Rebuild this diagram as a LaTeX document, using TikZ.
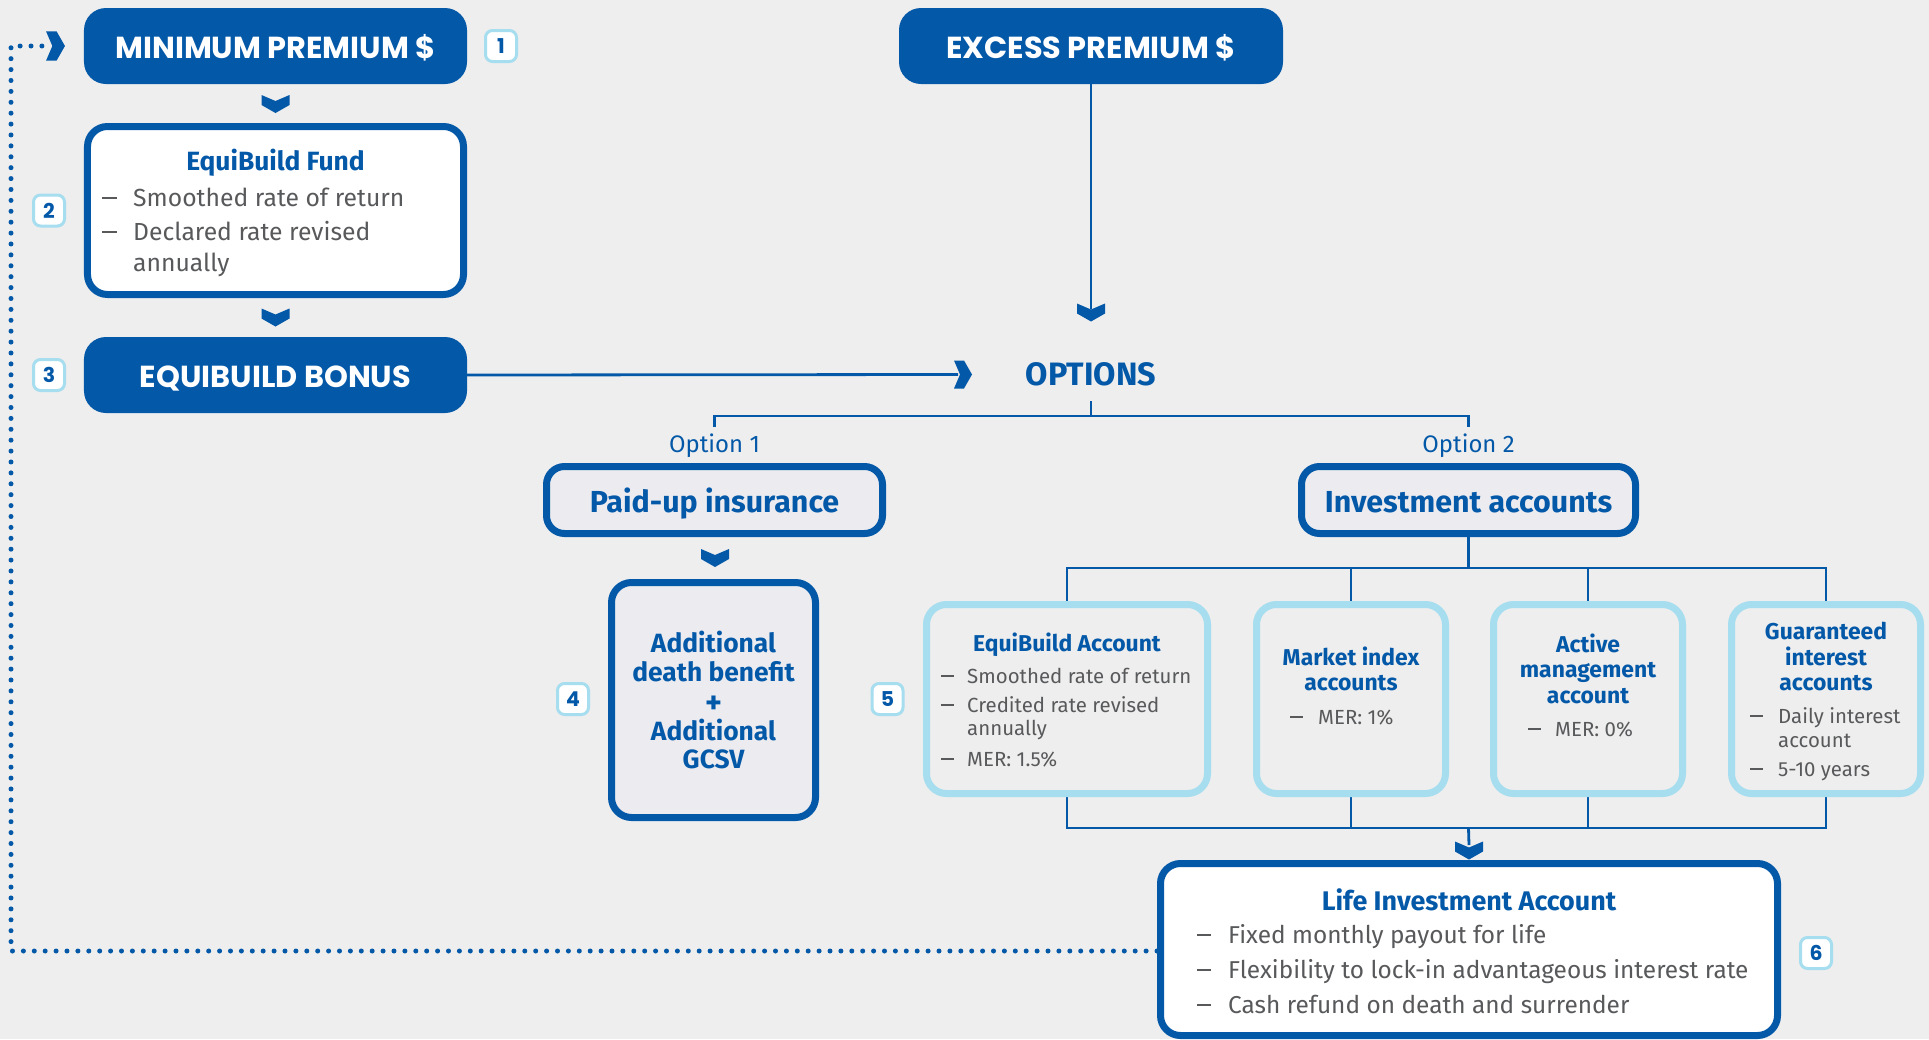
\documentclass[tikz,border=0pt]{standalone}
\usepackage{fontspec}
\setmainfont{Fira Sans}
\newfontfamily\hfont{Poppins}
\usetikzlibrary{calc}
\definecolor{navy}{HTML}{0358A8}
\definecolor{sky}{HTML}{A6DDEF}
\definecolor{bgpaper}{HTML}{EEEEEE}
\definecolor{panel}{HTML}{ECECF0}
\definecolor{ink}{HTML}{58595B}
\pgfdeclarelayer{paperlayer}
\pgfdeclarelayer{wires}
\pgfsetlayers{paperlayer,wires,main}
\tikzset{
  solidbox/.style={fill=navy, rounded corners=22bp, inner sep=0pt, minimum width=383bp, minimum height=76bp},
  framebox/.style={draw=navy, line width=7bp, rounded corners=20bp, inner sep=0pt, fill=white},
  panelbox/.style={framebox, fill=panel},
  softbox/.style={draw=sky, line width=7bp, rounded corners=20bp, inner sep=0pt, fill=bgpaper, minimum height=189bp},
  badge/.style={draw=sky, line width=3bp, fill=white, rounded corners=7bp, minimum size=31bp, inner sep=0pt, text=navy, font=\hfont\bfseries\fontsize{20.5}{20.5}\selectfont},
  conn/.style={draw=navy, line width=2.8bp},
  dotline/.style={draw=navy, line width=5bp, line cap=round, dash pattern=on 0bp off 10.9bp},
  heading/.style={text=white, font=\hfont\bfseries\fontsize{30.5}{30.5}\selectfont, inner sep=0pt, anchor=base},
  bigtitle/.style={text=navy, font=\bfseries\fontsize{30.5}{30.5}\selectfont, inner sep=0pt, anchor=base},
  addtitle/.style={text=navy, font=\bfseries\fontsize{26.5}{26.5}\selectfont, inner sep=0pt, anchor=base},
  boxtitle/.style={text=navy, font=\bfseries\fontsize{26.5}{26.5}\selectfont, inner sep=0pt, anchor=base},
  acctitle/.style={text=navy, font=\bfseries\fontsize{23}{23}\selectfont, inner sep=0pt, anchor=base},
  optlabel/.style={text=navy, font=\fontsize{24}{24}\selectfont, inner sep=0pt, anchor=base},
  fundtxt/.style={text=ink, font=\fontsize{24.8}{24.8}\selectfont, inner sep=0pt, anchor=base west},
  acctxt/.style={text=ink, font=\fontsize{20.5}{20.5}\selectfont, inner sep=0pt, anchor=base west},
  lifetxt/.style={text=ink, font=\fontsize{24.5}{24.5}\selectfont, inner sep=0pt, anchor=base west},
  fundmark/.style={fill=ink, inner sep=0pt, anchor=south west, minimum width=15bp, minimum height=2bp, yshift=7bp},
  accmark/.style={fill=ink, inner sep=0pt, anchor=south west, minimum width=12.5bp, minimum height=1.8bp, yshift=6bp},
  lifemark/.style={fill=ink, inner sep=0pt, anchor=south west, minimum width=14bp, minimum height=2bp, yshift=6.5bp},
  chevdown/.pic={\fill[navy] (-14,-9) -- (0,-3) -- (14,-9) -- (14,1) -- (0,9) -- (-14,1) -- cycle;},
  chevright/.pic={\fill[navy] (-9,-14) -- (-3,0) -- (-9,14) -- (1,14) -- (9,0) -- (1,-14) -- cycle;}
}
\begin{document}
\begin{tikzpicture}[x=1bp,y=-1bp]
\begin{pgfonlayer}{paperlayer}
  \fill[bgpaper] (0,0) rectangle (1929,1039);
\end{pgfonlayer}
\useasboundingbox (0,0) rectangle (1929,1039);

% ---- left column: premium, fund, bonus
\node[solidbox] (minprem) at (275.5,46) {};
\node[heading] (minpremT) at (275.5,58) {MINIMUM PREMIUM \$};
\node[badge] (b1) at (501,46) {1};
\pic at (275.5,104) {chevdown};

\node[framebox, minimum width=376bp, minimum height=168bp] (fund) at (275.5,210.5) {};
\node[boxtitle] (fundT) at (275.5,170) {EquiBuild Fund};
\node[fundmark] (fb1) at (102,206) {};
\node[fundtxt] (fl1) at (133,206) {Smoothed rate of return};
\node[fundmark] (fb2) at (102,240) {};
\node[fundtxt] (fl2) at (133,240) {Declared rate revised};
\node[fundtxt] (fl3) at (133,271) {annually};
\node[badge] (b2) at (49,210.5) {2};
\pic at (275.5,317.5) {chevdown};

\node[solidbox] (bonus) at (275.5,375) {};
\node[heading] (bonusT) at (275.5,387) {EQUIBUILD BONUS};
\node[badge] (b3) at (49,375) {3};

% ---- excess premium and options
\node[solidbox, minimum width=384bp] (excess) at (1091,46) {};
\node[heading] (excessT) at (1091,58) {EXCESS PREMIUM \$};
\pic at (1091,312.5) {chevdown};
\pic at (963,374.5) {chevright};
\node[bigtitle, font=\bfseries\fontsize{32.5}{32.5}\selectfont] (options) at (1091,385) {OPTIONS};

\node[optlabel] (opt1) at (714.5,452) {Option 1};
\node[optlabel] (opt2) at (1468.5,452) {Option 2};

% ---- option 1
\node[panelbox, rounded corners=18bp, minimum width=336bp, minimum height=67bp] (paid) at (714.5,500) {};
\node[bigtitle] (paidT) at (714.5,512) {Paid-up insurance};
\pic at (715,558) {chevdown};
\node[panelbox, minimum width=204bp, minimum height=235bp] (extra) at (713.5,700) {};
\node[addtitle] (ex1) at (713.5,652) {Additional};
\node[addtitle] (ex2) at (713.5,681) {death benefit};
\node[addtitle, font=\bfseries\fontsize{32}{32}\selectfont] (ex3) at (713.5,713) {+};
\node[addtitle] (ex4) at (713.5,740) {Additional};
\node[addtitle] (ex5) at (713.5,768) {GCSV};
\node[badge] (b4) at (573,699) {4};

% ---- option 2
\node[panelbox, rounded corners=18bp, minimum width=334bp, minimum height=67bp] (invest) at (1468.5,500) {};
\node[bigtitle] (investT) at (1468.5,512) {Investment accounts};
\node[badge] (b5) at (887.5,699) {5};

\node[softbox, minimum width=281bp] (acc1) at (1067,699) {};
\node[acctitle] (a1t) at (1067,651) {EquiBuild Account};
\node[accmark] (a1b1) at (941,683) {};
\node[acctxt] (a1l1) at (967,683) {Smoothed rate of return};
\node[accmark] (a1b2) at (941,712) {};
\node[acctxt] (a1l2) at (967,712) {Credited rate revised};
\node[acctxt] (a1l3) at (967,735) {annually};
\node[accmark] (a1b3) at (941,766) {};
\node[acctxt] (a1l4) at (967,766) {MER: 1.5\%};

\node[softbox, minimum width=189bp] (acc2) at (1351,699) {};
\node[acctitle] (a2t1) at (1351,665) {Market index};
\node[acctitle] (a2t2) at (1351,690) {accounts};
\node[accmark] (a2b1) at (1290,724) {};
\node[acctxt] (a2l1) at (1318,724) {MER: 1\%};

\node[softbox, minimum width=189bp] (acc3) at (1588,699) {};
\node[acctitle] (a3t1) at (1588,652) {Active};
\node[acctitle] (a3t2) at (1588,677) {management};
\node[acctitle] (a3t3) at (1588,703) {account};
\node[accmark] (a3b1) at (1528,736) {};
\node[acctxt] (a3l1) at (1555,736) {MER: 0\%};

\node[softbox, minimum width=189bp] (acc4) at (1826,699) {};
\node[acctitle] (a4t1) at (1826,639) {Guaranteed};
\node[acctitle] (a4t2) at (1826,665) {interest};
\node[acctitle] (a4t3) at (1826,690) {accounts};
\node[accmark] (a4b1) at (1750,723) {};
\node[acctxt] (a4l1) at (1778,723) {Daily interest};
\node[acctxt] (a4l2) at (1778,747) {account};
\node[accmark] (a4b2) at (1750,776) {};
\node[acctxt] (a4l3) at (1778,776) {5-10 years};

% ---- life investment account
\pic at (1469,850.5) {chevdown};
\node[framebox, minimum width=617bp, minimum height=172bp] (life) at (1469,949.5) {};
\node[boxtitle, font=\bfseries\fontsize{27}{27}\selectfont] (lifeT) at (1469,910) {Life Investment Account};
\node[lifemark] (lb1) at (1197,943) {};
\node[lifetxt] (ll1) at (1228,943) {Fixed monthly payout for life};
\node[lifemark] (lb2) at (1197,978) {};
\node[lifetxt] (ll2) at (1228,978) {Flexibility to lock-in advantageous interest rate};
\node[lifemark] (lb3) at (1197,1013) {};
\node[lifetxt] (ll3) at (1228,1013) {Cash refund on death and surrender};
\node[badge] (b6) at (1816,953) {6};
\pic[scale=1.05] at (55.5,46) {chevright};

% ---- connectors
\coordinate (optIn) at (1091,309);
\coordinate (optLeft) at (958,374.5);
\coordinate (optTick) at (1091,401);
\coordinate (optHub) at (1091,416);
\coordinate (drop1) at (714.5,427);
\coordinate (drop2) at (1468.5,427);
\coordinate (busTop) at (1468.5,568);
\coordinate (busBot) at (1468.5,828);
\coordinate (lifeIn) at (1469,845);
\coordinate (loopSW) at (11,951);
\coordinate (loopNW) at (11,46);
\coordinate (loopEnd) at (42,46);
\begin{pgfonlayer}{wires}
  \draw[conn] (excess.south) -- (optIn);
  \draw[conn] (bonus.east) -- (optLeft);
  \draw[conn] (optTick) -- (optHub);
  \draw[conn] (drop1) |- (optHub) -| (drop2);
  \draw[conn] (invest.south) -- (busTop);
  \draw[conn] (acc1.north) |- (busTop) -| (acc4.north);
  \draw[conn] (acc2.north) -- (acc2.north |- busTop);
  \draw[conn] (acc3.north) -- (acc3.north |- busTop);
  \draw[conn] (acc1.south) |- (busBot) -| (acc4.south);
  \draw[conn] (acc2.south) -- (acc2.south |- busBot);
  \draw[conn] (acc3.south) -- (acc3.south |- busBot);
  \draw[conn] (busBot) -- (lifeIn);
  \draw[dotline] (life.west |- loopSW) -- (loopSW) -- (loopNW) -- (loopEnd);
\end{pgfonlayer}
\end{tikzpicture}
\end{document}
